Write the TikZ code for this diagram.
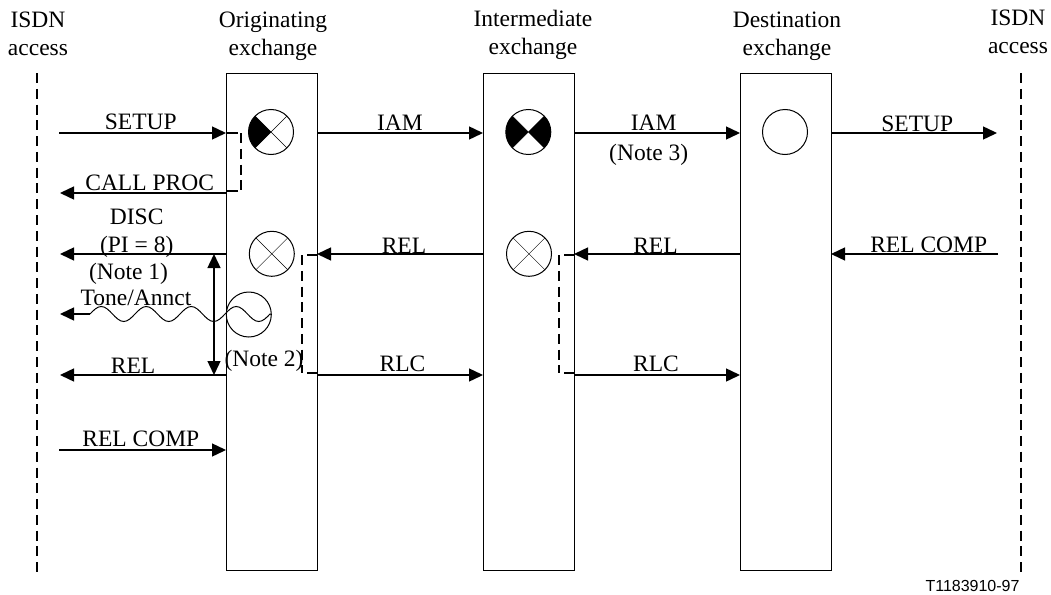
\documentclass[tikz,border=0pt]{standalone}
\usepackage{fontspec}
\setmainfont{Liberation Serif}
\newfontfamily\figfont{Liberation Sans}
\usetikzlibrary{arrows.meta}

\tikzset{
  every node/.style={font=\fontsize{23.5}{28}\selectfont, align=center},
  >={Triangle[length=14pt,width=13pt]},
  msg/.style={line width=1.4pt},
  lbl/.style={inner sep=0pt, outer sep=1pt},
  block/.style={draw, line width=1pt, minimum width=91pt, minimum height=497pt, inner sep=0pt, outer sep=0pt},
  disk/.style={draw, circle, line width=1pt, minimum size=45pt, inner sep=0pt, outer sep=0pt},
  guard/.style={line width=1.6pt, dash pattern=on 10pt off 5.78pt},
}

\begin{document}
\begin{tikzpicture}[x=1pt,y=-1pt]
\useasboundingbox (0,0) rectangle (1051,594);

% access lines
\node (isdnL) at (38,34) {ISDN\\access};
\node (isdnR) at (1018,32) {ISDN\\access};
\coordinate (lineLa) at (37,73);
\coordinate (lineLb) at (37,572);
\coordinate (lineRa) at (1021,73);
\coordinate (lineRb) at (1021,572);
\draw [guard] (lineLa) -- (lineLb);
\draw [guard] (lineRa) -- (lineRb);

% exchanges
\node (orig) at (273,36.5) {Originating\\exchange};
\node (inter) at (533,35) {Intermediate\\exchange};
\node (dest) at (787,36) {Destination\\exchange};
\node [block] (origB) at (271.5,321.5) {};
\node [block] (interB) at (528.5,321.5) {};
\node [block] (destB) at (785.5,321.5) {};

% circles
\node [disk] (c1) at (271,132) {};
\node [disk] (c2) at (528.3,132) {};
\node [disk] (c3) at (785,132) {};
\node [disk] (c4) at (271.8,253.8) {};
\node [disk] (c5) at (529,253.8) {};
\node [disk] (tone) at (248.8,314.5) {};
\fill (c1.center) -- (c1.135) arc [start angle=135, end angle=225, radius=22.5pt] -- cycle;
\fill (c2.center) -- (c2.135) arc [start angle=135, end angle=225, radius=22.5pt] -- cycle;
\fill (c2.center) -- (c2.-45) arc [start angle=-45, end angle=45, radius=22.5pt] -- cycle;
\draw (c1.45) -- (c1.225);
\draw (c1.135) -- (c1.315);
\draw (c2.45) -- (c2.225);
\draw (c2.135) -- (c2.315);
\draw (c4.45) -- (c4.225);
\draw (c4.135) -- (c4.315);
\draw (c5.45) -- (c5.225);
\draw (c5.135) -- (c5.315);

% left side
\coordinate (setupA) at (59,133);
\coordinate (setupB) at (226,133);
\coordinate (procA) at (226,193);
\coordinate (procB) at (60,193);
\coordinate (discA) at (226,254);
\coordinate (discB) at (60,254);
\coordinate (toneA) at (90,314);
\coordinate (toneB) at (60,314);
\coordinate (relA) at (226,375);
\coordinate (relB) at (60,375);
\coordinate (compA) at (59,450);
\coordinate (compB) at (226,450);
\coordinate (spanA) at (214,254);
\coordinate (spanB) at (214,375);
\draw [msg, ->] (setupA) -- node[pos=0.49, above=2pt, lbl] {SETUP} (setupB);
\draw [msg, ->] (procA) -- node[pos=0.46, above=1pt, lbl] {CALL PROC} (procB);
\draw [msg, ->] (discA) -- node[pos=0.538, above=-4pt, lbl] {DISC\\(PI = 8)} (discB);
\draw [msg, ->] (toneA) -- (toneB);
\draw [msg, ->] (relA) -- node[pos=0.56, above=1pt, lbl] {REL} (relB);
\draw [msg, ->] (compA) -- node[pos=0.49, above=2pt, lbl] {REL COMP} (compB);
\draw [msg, <->] (spanA) -- (spanB);
\draw [line width=1pt] (toneA)
  sin +(11.25,-7.5) cos +(11.25,7.5) sin +(11.25,7.5) cos +(11.25,-7.5)
  sin +(11.25,-7.5) cos +(11.25,7.5) sin +(11.25,7.5) cos +(11.25,-7.5)
  sin +(11.25,-7.5) cos +(11.25,7.5) sin +(11.25,7.5) cos +(11.25,-7.5)
  sin +(11.25,-7.5) cos +(11.25,7.5) sin +(11.25,7.5) cos +(11.25,-7.5)
  -- (tone.east);
\node (note1) at (128.5,274) {(Note 1)};
\node (annct) at (136,298) {Tone/Annct};
\node (note2) at (264,361) {(Note 2)};

% middle
\coordinate (iamA) at (317,133);
\coordinate (iamB) at (483,133);
\coordinate (rel2A) at (483,254);
\coordinate (rel2B) at (317,254);
\coordinate (rlcA) at (317,375);
\coordinate (rlcB) at (483,375);
\draw [msg, ->] (iamA) -- node[pos=0.5, above=2pt, lbl] {IAM} (iamB);
\draw [msg, ->] (rel2A) -- node[pos=0.476, above, lbl] {REL} (rel2B);
\draw [msg, ->] (rlcA) -- node[pos=0.515, above=2pt, lbl] {RLC} (rlcB);

% right
\coordinate (iam2A) at (574,133);
\coordinate (iam2B) at (740,133);
\coordinate (rel3A) at (740,254);
\coordinate (rel3B) at (574,254);
\coordinate (rlc2A) at (574,375);
\coordinate (rlc2B) at (740,375);
\coordinate (setup2A) at (831,133);
\coordinate (setup2B) at (997,133);
\coordinate (comp2A) at (998,254);
\coordinate (comp2B) at (831,254);
\draw [msg, ->] (iam2A) -- node[pos=0.48, above=2pt, lbl] {IAM} (iam2B);
\draw [msg, ->] (rel3A) -- node[pos=0.509, above, lbl] {REL} (rel3B);
\draw [msg, ->] (rlc2A) -- node[pos=0.494, above=2pt, lbl] {RLC} (rlc2B);
\draw [msg, ->] (setup2A) -- node[pos=0.52, above, lbl] {SETUP} (setup2B);
\draw [msg, ->] (comp2A) -- node[pos=0.415, above, lbl] {REL COMP} (comp2B);
\node (note3) at (648.7,155) {(Note 3)};

% release guards
\coordinate (g1A) at (226,133);
\coordinate (g1B) at (238,133);
\coordinate (g1C) at (241,133);
\coordinate (g1D) at (241,190);
\coordinate (g1E) at (238,191);
\coordinate (g1F) at (226,191);
\draw [msg] (g1A) -- (g1B);
\draw [guard] (g1C) -- (g1D);
\draw [msg] (g1E) -- (g1F);
\coordinate (g2A) at (317,255);
\coordinate (g2B) at (307,255);
\coordinate (g2C) at (302,255);
\coordinate (g2D) at (302,373);
\coordinate (g2E) at (307,373);
\coordinate (g2F) at (317,373);
\draw [msg] (g2A) -- (g2B);
\draw [guard] (g2C) -- (g2D);
\draw [msg] (g2E) -- (g2F);
\coordinate (g3A) at (574,255);
\coordinate (g3B) at (564,255);
\coordinate (g3C) at (559,255);
\coordinate (g3D) at (559,373);
\coordinate (g3E) at (564,373);
\coordinate (g3F) at (574,373);
\draw [msg] (g3A) -- (g3B);
\draw [guard] (g3C) -- (g3D);
\draw [msg] (g3E) -- (g3F);

\node [font=\figfont\fontsize{16}{20}\selectfont] (ref) at (972.5,586) {T1183910-97};
\end{tikzpicture}
\end{document}
